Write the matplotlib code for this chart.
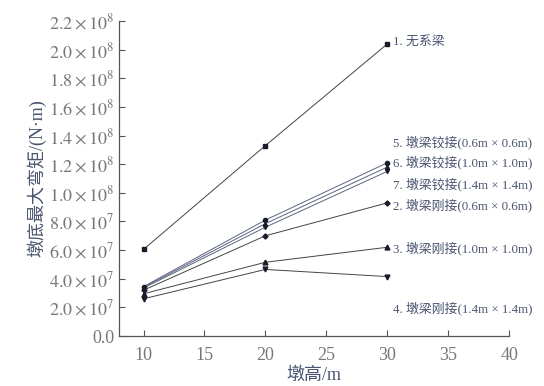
import matplotlib
matplotlib.use("Agg")
import matplotlib.pyplot as plt
from matplotlib.ticker import FixedLocator

plt.rcParams['font.family'] = ['Liberation Serif', 'Noto Sans CJK SC', 'DejaVu Sans']
plt.rcParams['mathtext.fontset'] = 'stix'

heights = [10, 20, 30]
s1 = [6.05e7, 1.33e8, 2.04e8]
s5 = [3.45e7, 8.1e7, 1.21e8]
s6 = [3.4e7, 7.85e7, 1.18e8]
s7 = [3.35e7, 7.6e7, 1.15e8]
s2 = [3.2e7, 7.0e7, 9.3e7]
s3 = [2.95e7, 5.15e7, 6.2e7]
s4 = [2.6e7, 4.65e7, 4.15e7]

labels = ["1. 无系梁", "5. 墩梁铰接(0.6m × 0.6m)", "6. 墩梁铰接(1.0m × 1.0m)",
          "7. 墩梁铰接(1.4m × 1.4m)", "2. 墩梁刚接(0.6m × 0.6m)",
          "3. 墩梁刚接(1.0m × 1.0m)", "4. 墩梁刚接(1.4m × 1.4m)"]
label_y = [2.05e8, 1.35e8, 1.21e8, 1.06e8, 9.1e7, 6.1e7, 1.9e7]

yticks = [0, 2e7, 4e7, 6e7, 8e7, 1.0e8, 1.2e8, 1.4e8, 1.6e8, 1.8e8, 2.0e8, 2.2e8]
yticklabels = ["0.0", r"$2.0\times10^7$", r"$4.0\times10^7$", r"$6.0\times10^7$",
               r"$8.0\times10^7$", r"$1.0\times10^8$", r"$1.2\times10^8$",
               r"$1.4\times10^8$", r"$1.6\times10^8$", r"$1.8\times10^8$",
               r"$2.0\times10^8$", r"$2.2\times10^8$"]
xticks = [10, 15, 20, 25, 30, 35, 40]

fig = plt.figure(figsize=(5.44, 3.86), dpi=100)
ax = fig.add_axes([0.219, 0.1295, 0.717, 0.816])

series = [(s1, 's', '#444444', 3.5), (s5, 'o', '#5a6680', 3), (s6, '^', '#5a6680', 3),
          (s7, 'v', '#5a6680', 3), (s2, 'D', '#444444', 2.6), (s3, '^', '#444444', 3.5),
          (s4, 'v', '#444444', 3.5)]
for vals, m, c, ms in series:
    ax.plot(heights, vals, color=c, lw=0.7, marker=m, ms=ms, mfc='#1a1a2a', mec='#1a1a2a')

for lab, yv in zip(labels, label_y):
    ax.text(30.5, yv, lab, fontsize=9.3, color='#4a5470', va='center', ha='left', clip_on=False)

ax.set_xlim(8, 40)
ax.set_ylim(0, 2.2e8)
ax.yaxis.set_major_locator(FixedLocator(yticks))
ax.set_yticklabels(yticklabels)
ax.set_xticks(xticks)
ax.set_xticklabels([str(x) for x in xticks])
ax.tick_params(direction='in', length=4, width=0.8, colors='#555555', labelcolor='#777777', labelsize=13)
ax.tick_params(axis='x', pad=8)
ax.spines['top'].set_visible(False)
ax.spines['right'].set_visible(False)
for sp in ['left', 'bottom']:
    ax.spines[sp].set_color('#555555')
    ax.spines[sp].set_linewidth(0.9)

ax.set_xlabel("墩高/m", fontsize=13, color='#4a5470', labelpad=2)
ax.set_ylabel("墩底最大弯矩/(N·m)", fontsize=13, color='#4a5470', labelpad=2)

fig.savefig("out.png", dpi=100)
